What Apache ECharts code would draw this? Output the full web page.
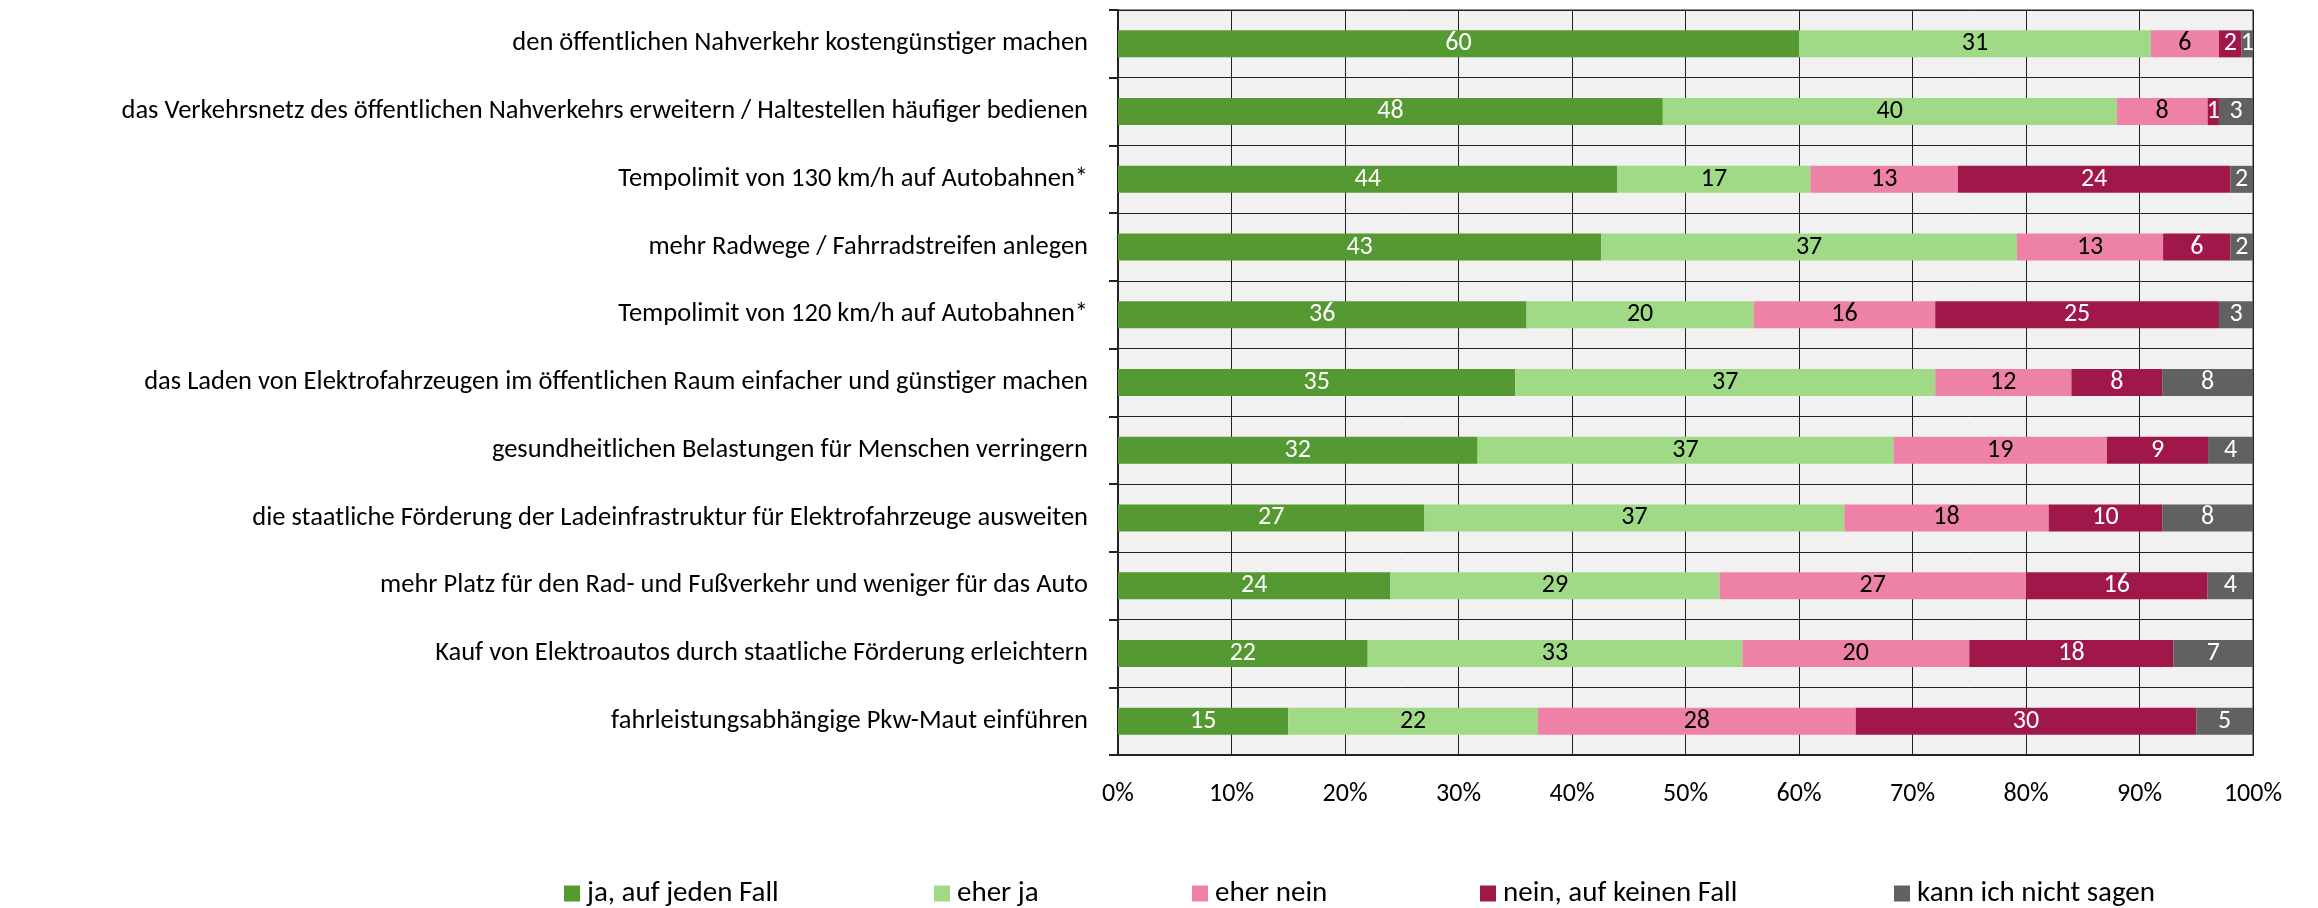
<html>
<head>
<meta charset="utf-8">
<script src="https://cdn.jsdelivr.net/npm/echarts@6.0.0/dist/echarts.min.js"></script>
<style>
  html, body { margin: 0; padding: 0; background: #fff; }
  #chart { width: 2318px; height: 908px; }
</style>
</head>
<body>
<div id="chart"></div>
<script>
// Kategorien (von oben nach unten)
var categories = [
    'den öffentlichen Nahverkehr kostengünstiger machen',
    'das Verkehrsnetz des öffentlichen Nahverkehrs erweitern / Haltestellen häufiger bedienen',
    'Tempolimit von 130 km/h auf Autobahnen*',
    'mehr Radwege / Fahrradstreifen anlegen',
    'Tempolimit von 120 km/h auf Autobahnen*',
    'das Laden von Elektrofahrzeugen im öffentlichen Raum einfacher und günstiger machen',
    'gesundheitlichen Belastungen für Menschen verringern',
    'die staatliche Förderung der Ladeinfrastruktur für Elektrofahrzeuge ausweiten',
    'mehr Platz für den Rad- und Fußverkehr und weniger für das Auto',
    'Kauf von Elektroautos durch staatliche Förderung erleichtern',
    'fahrleistungsabhängige Pkw-Maut einführen'
];

var seriesNames = ['ja, auf jeden Fall', 'eher ja', 'eher nein', 'nein, auf keinen Fall', 'kann ich nicht sagen'];

// Werte in Prozent
var jaAufJedenFall = [60, 48, 44, 43, 36, 35, 32, 27, 24, 22, 15];
var eherJa         = [31, 40, 17, 37, 20, 37, 37, 37, 29, 33, 22];
var eherNein       = [6, 8, 13, 13, 16, 12, 19, 18, 27, 20, 28];
var neinAufKeinen  = [2, 1, 24, 6, 25, 8, 9, 10, 16, 18, 30];
var kannNicht      = [1, 3, 2, 2, 3, 8, 4, 8, 4, 7, 5];

var xTicks = ['0%', '10%', '20%', '30%', '40%', '50%', '60%', '70%', '80%', '90%', '100%'];

var colors = ['#549932', '#a0da86', '#ee82a6', '#a0184a', '#616161'];
var labelColors = ['#fff', '#000', '#000', '#fff', '#fff'];
var legendLeft = [559, 929, 1187, 1475, 1889];

var FONT = 'Carlito, "Liberation Sans Narrow", "DejaVu Sans Condensed", sans-serif';

var raw = [jaAufJedenFall, eherJa, eherNein, neinAufKeinen, kannNicht];

// 100%-Stapelung: jede Zeile auf 100 normieren
var sums = categories.map(function (c, i) {
    return raw.reduce(function (s, arr) { return s + arr[i]; }, 0);
});

var myChart = echarts.init(document.getElementById('chart'));

var series = raw.map(function (arr, k) {
    return {
        name: seriesNames[k],
        type: 'bar',
        stack: 'total',
        barWidth: 27,
        itemStyle: { color: colors[k] },
        label: {
            show: true,
            position: 'inside',
            color: labelColors[k],
            fontFamily: FONT,
            fontSize: 26,
            formatter: function (p) { return arr[p.dataIndex]; }
        },
        data: arr.map(function (v, i) { return v / sums[i] * 100; })
    };
});

var legends = seriesNames.map(function (n, k) {
    return {
        data: [n],
        left: legendLeft[k],
        top: 874,
        itemWidth: 16,
        itemHeight: 16,
        itemGap: 0,
        icon: 'rect',
        textStyle: { fontFamily: FONT, fontSize: 29, color: '#000', padding: [0, 0, 0, 2] }
    };
});

option = {
    backgroundColor: '#fff',
    animation: false,
    grid: {
        left: 1118,
        right: 65,
        top: 10,
        height: 745,
        show: true,
        backgroundColor: '#f1f1f1',
        borderColor: '#222',
        borderWidth: 1
    },
    legend: legends,
    xAxis: {
        type: 'value',
        min: 0,
        max: 100,
        interval: 10,
        axisLine: { show: true, lineStyle: { color: '#222', width: 2 } },
        axisTick: { show: false },
        splitLine: { show: true, lineStyle: { color: '#222', width: 1 } },
        axisLabel: {
            margin: 26,
            fontFamily: FONT,
            fontSize: 26,
            color: '#000',
            formatter: function (v) { return xTicks[Math.round(v / 10)]; }
        }
    },
    yAxis: {
        type: 'category',
        inverse: true,
        data: categories,
        axisLine: { show: true, lineStyle: { color: '#222', width: 2 } },
        axisTick: { show: true, length: 9, lineStyle: { color: '#222', width: 2 } },
        splitLine: { show: true, lineStyle: { color: '#222', width: 1 } },
        axisLabel: {
            margin: 30,
            fontFamily: FONT,
            fontSize: 26.5,
            color: '#000'
        }
    },
    series: series
};

myChart.setOption(option);
</script>
</body>
</html>
